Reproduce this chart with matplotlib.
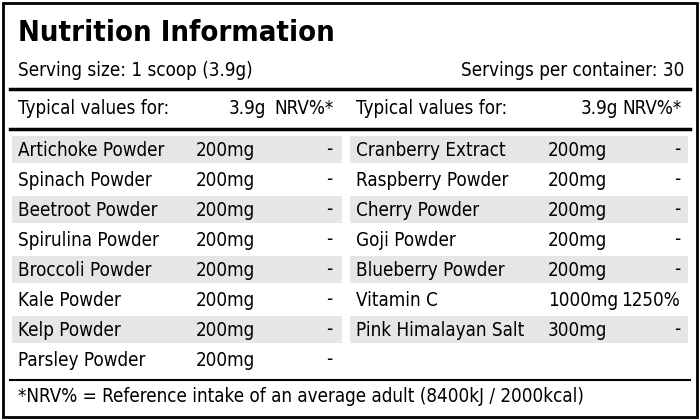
import matplotlib
matplotlib.use("Agg")
import matplotlib.pyplot as plt
from matplotlib.patches import Rectangle

FONT = 'DejaVu Sans'
ST = 'condensed'

left_names = ["Artichoke Powder", "Spinach Powder", "Beetroot Powder", "Spirulina Powder",
              "Broccoli Powder", "Kale Powder", "Kelp Powder", "Parsley Powder"]
left_amounts = ["200mg"] * 8
left_nrv = ["-"] * 8
right_names = ["Cranberry Extract", "Raspberry Powder", "Cherry Powder", "Goji Powder",
               "Blueberry Powder", "Vitamin C", "Pink Himalayan Salt"]
right_amounts = ["200mg", "200mg", "200mg", "200mg", "200mg", "1000mg", "300mg"]
right_nrv = ["-", "-", "-", "-", "-", "1250%", "-"]

fig = plt.figure(figsize=(7, 4.2), dpi=100)
ax = fig.add_axes([0, 0, 1, 1])
ax.set_xlim(0, 700); ax.set_ylim(420, 0); ax.axis('off')

def T(x, y, s, size=13.5, **kw):
    ax.text(x, y, s, fontsize=size, family=FONT, stretch=ST, va='center', **kw)

ax.add_patch(Rectangle((3, 3), 694, 414, fill=False, lw=2, ec='black'))
T(18, 33, "Nutrition Information", size=21, fontweight='bold')
T(18, 71, "Serving size: 1 scoop (3.9g)")
T(684, 71, "Servings per container: 30", ha='right')
ax.plot([10, 690], [89, 89], color='black', lw=2.5)
ax.plot([10, 690], [129, 129], color='black', lw=2.5)
ax.plot([10, 690], [380, 380], color='black', lw=1.5)

def col(x0, x1, xname, xamt, xnrv, names_, amts, nrvs):
    T(xname, 109, "Typical values for:")
    T(xamt + 70, 109, "3.9g", ha='right')
    T(xnrv, 109, "NRV%*", ha='right')
    for i, (n, a, r) in enumerate(zip(names_, amts, nrvs)):
        y = 150 + 30 * i
        if i % 2 == 0:
            ax.add_patch(Rectangle((x0, y - 14), x1 - x0, 27, color='#e6e6e6', lw=0))
        T(xname, y, n)
        T(xamt, y, a)
        T(xnrv - 2, y, r, ha='right')

col(12, 342, 18, 196, 334, left_names, left_amounts, left_nrv)
col(350, 688, 356, 548, 682, right_names, right_amounts, right_nrv)

T(18, 397, "*NRV% = Reference intake of an average adult (8400kJ / 2000kcal)")
fig.savefig("out.png", dpi=100)
